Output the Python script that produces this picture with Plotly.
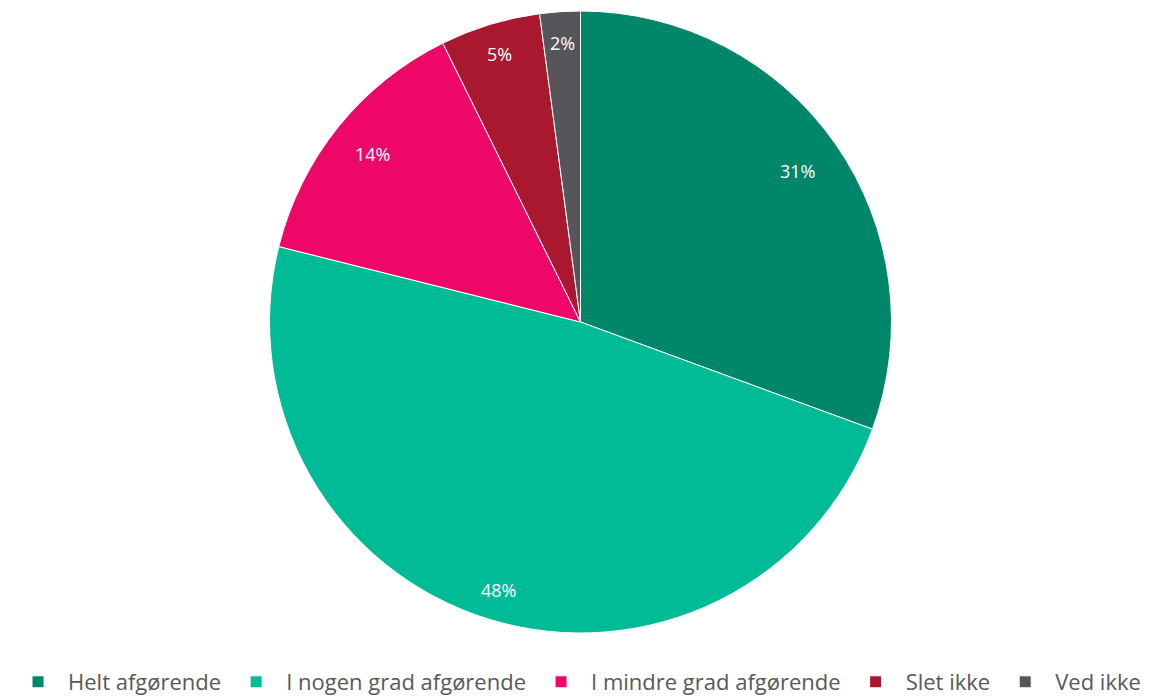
import math
import plotly.graph_objects as go

categories = ["Helt afgørende", "I nogen grad afgørende", "I mindre grad afgørende", "Slet ikke", "Ved ikke"]
shares = [30.6, 48.3, 13.8, 5.2, 2.1]
colors = ["#00876A", "#00BB96", "#EE0769", "#AA1830", "#55555A"]

W, H = 1159, 697
ML, MR, MT, MB = 0, 14, 3, 72

fig = go.Figure(go.Pie(
    labels=categories,
    values=shares,
    sort=False,
    direction="clockwise",
    rotation=0,
    marker=dict(colors=colors, line=dict(color="white", width=1)),
    textinfo="none",
    hoverinfo="label+percent",
))

# Percentage labels placed near the outer part of each slice (Excel "best fit" look)
label_radius = [0.85, 0.90, 0.86, 0.90, 0.90]
total = sum(shares)
pw, ph = W - ML - MR, H - MT - MB
cx, cy = ML + pw / 2, MT + ph / 2   # pixel centre of the pie (figure coords)
R = min(pw, ph) / 2
cum = 0.0
annotations = []
for v, rf in zip(shares, label_radius):
    mid = (cum + v / 2) / total * 2 * math.pi
    cum += v
    px = cx + math.sin(mid) * R * rf
    py = cy - math.cos(mid) * R * rf
    annotations.append(dict(
        x=(px - ML) / pw, y=1 - (py - MT) / ph, xref="paper", yref="paper",
        text=f"{round(v / total * 100)}%", showarrow=False,
        font=dict(color="white", size=18, family="Open Sans"),
        xanchor="center", yanchor="middle",
    ))

fig.update_layout(
    width=W, height=H,
    margin=dict(l=ML, r=MR, t=MT, b=MB),
    paper_bgcolor="white",
    plot_bgcolor="white",
    showlegend=True,
    legend=dict(
        orientation="h",
        x=0.0, xanchor="left",
        y=-0.045, yanchor="top",
        font=dict(size=22, color="#595959", family="Open Sans"),
        itemwidth=50,
    ),
    annotations=annotations,
)

fig.write_html("out.html")
